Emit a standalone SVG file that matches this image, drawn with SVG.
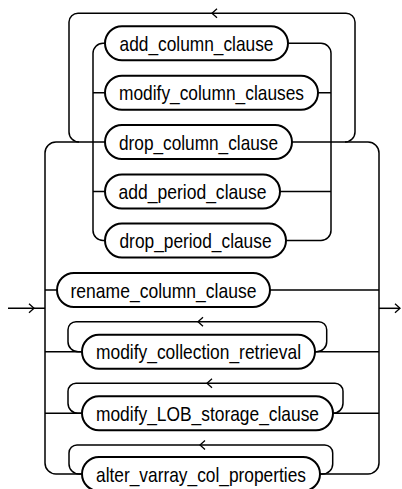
<svg xmlns="http://www.w3.org/2000/svg" width="402" height="489" viewBox="0 0 402 489">
<style>
.ln{fill:none;stroke:#000;stroke-width:1.5}
.ar{fill:none;stroke:#000;stroke-width:1.3}
.box{fill:#fff;stroke:#000;stroke-width:2}
text{font-family:"Liberation Sans Narrow","Liberation Sans",Arial,sans-serif;font-size:21px;text-anchor:middle;fill:#000}
</style>
<defs>
<path id="al" class="ar" d="M5,-4.5 L0,0 L5,4.5"/>
<path id="arr" class="ar" d="M-5,-4.5 L0,0 L-5,4.5"/>
</defs>
<g id="connectors">
<path class="ln" d="M8,308.3 H45"/>
<use href="#arr" x="34" y="308.3"/>
<path class="ln" d="M379,308.3 H400"/>
<use href="#arr" x="400" y="308.3"/>
<path class="ln" d="M105,142 H56 A11 11 0 0 0 45,153 V463 A11 11 0 0 0 56,474 H82"/>
<path class="ln" d="M292,142 H368 A11 11 0 0 1 379,153 V463 A11 11 0 0 1 368,474 H320"/>
<path class="ln" d="M345,142 A10 10 0 0 0 355,132 V22 A9 9 0 0 0 346,13.3 H78 A9 9 0 0 0 69,22 V132 A10 10 0 0 0 79,142"/>
<use href="#al" x="212" y="13.3"/>
<path class="ln" d="M105,43.3 H103 A10 10 0 0 0 93,53.3 V230.5 A10 10 0 0 0 103,240.5 H105"/>
<path class="ln" d="M288,43.3 H321 A10 10 0 0 1 331,53.3 V230.5 A10 10 0 0 1 321,240.5 H286"/>
<path class="ln" d="M93,92.7 H105 M318,92.7 H331 M93,191.5 H105 M280,191.5 H331"/>
<path class="ln" d="M45,290 H57 M270,290 H379"/>
<path class="ln" d="M45,351.7 H82 M315,351.7 H379"/>
<path class="ln" d="M45,413.3 H82 M333,413.3 H379"/>
<path class="ln" d="M82,351.7 H78 A10 10 0 0 1 68,341.7 V329.7 A8 8 0 0 1 76,321.7 H318.7 A8 8 0 0 1 326.7,329.7 V341.7 A10 10 0 0 1 316.7,351.7 H315"/>
<use href="#al" x="198" y="321.7"/>
<path class="ln" d="M82,413.3 H78 A10 10 0 0 1 68,403.3 V391.3 A8 8 0 0 1 76,383.3 H335 A8 8 0 0 1 343,391.3 V403.3 A10 10 0 0 1 333,413.3"/>
<use href="#al" x="207" y="383.3"/>
<path class="ln" d="M82,474 H79 A10 10 0 0 1 69,464 V453 A8 8 0 0 1 77,445 H324.7 A8 8 0 0 1 332.7,453 V464 A10 10 0 0 1 322.7,474 H320"/>
<use href="#al" x="200" y="445"/>
</g>
<g id="add_column_clause"><rect class="box" x="105" y="26.3" width="183" height="34" rx="17"/><text x="196.5" y="50.8" textLength="154" lengthAdjust="spacingAndGlyphs">add_column_clause</text></g>
<g id="modify_column_clauses"><rect class="box" x="105" y="75.7" width="213" height="34" rx="17"/><text x="211.5" y="100.2" textLength="185" lengthAdjust="spacingAndGlyphs">modify_column_clauses</text></g>
<g id="drop_column_clause"><rect class="box" x="105" y="125" width="187" height="34" rx="17"/><text x="198.5" y="149.5" textLength="159" lengthAdjust="spacingAndGlyphs">drop_column_clause</text></g>
<g id="add_period_clause"><rect class="box" x="105" y="174.5" width="175" height="34" rx="17"/><text x="192.5" y="199" textLength="148" lengthAdjust="spacingAndGlyphs">add_period_clause</text></g>
<g id="drop_period_clause"><rect class="box" x="105" y="223.5" width="181" height="34" rx="17"/><text x="195.5" y="248" textLength="152" lengthAdjust="spacingAndGlyphs">drop_period_clause</text></g>
<g id="rename_column_clause"><rect class="box" x="57" y="273" width="213" height="34" rx="17"/><text x="163.5" y="297.5" textLength="186" lengthAdjust="spacingAndGlyphs">rename_column_clause</text></g>
<g id="modify_collection_retrieval"><rect class="box" x="82" y="334.7" width="233" height="34" rx="17"/><text x="198.5" y="359.2" textLength="205" lengthAdjust="spacingAndGlyphs">modify_collection_retrieval</text></g>
<g id="modify_LOB_storage_clause"><rect class="box" x="82" y="396.3" width="251" height="34" rx="17"/><text x="207.5" y="420.8" textLength="223" lengthAdjust="spacingAndGlyphs">modify_LOB_storage_clause</text></g>
<g id="alter_varray_col_properties"><rect class="box" x="82" y="457" width="238" height="34" rx="17"/><text x="201" y="481.5" textLength="210" lengthAdjust="spacingAndGlyphs">alter_varray_col_properties</text></g>
</svg>
